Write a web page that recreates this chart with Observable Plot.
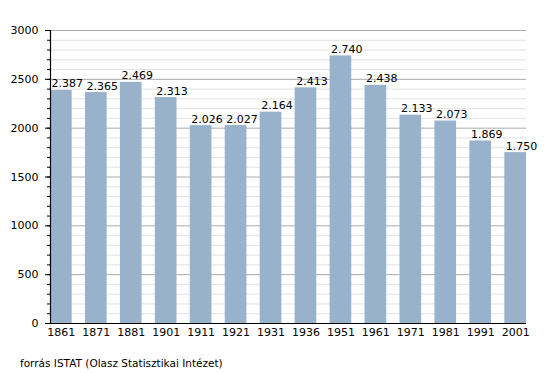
<!DOCTYPE html>
<html><head><meta charset="utf-8">
<script src="https://cdn.jsdelivr.net/npm/d3@7"></script>
<script src="https://cdn.jsdelivr.net/npm/@observablehq/plot@0.6"></script>
<style>
body{margin:0;background:#fff;font-family:"DejaVu Sans",sans-serif;}
#wrap{position:relative;width:555px;height:373px;}
#cap{position:absolute;left:20px;top:357px;font-size:10.5px;color:#000;white-space:nowrap;}
</style></head>
<body><div id="wrap"><div id="chart"></div><div id="cap">forrás ISTAT (Olasz Statisztikai Intézet)</div></div>
<script>
const years = ["1861","1871","1881","1901","1911","1921","1931","1936","1951","1961","1971","1981","1991","2001"];
const population = [2387,2365,2469,2313,2026,2027,2164,2413,2740,2438,2133,2073,1869,1750];
const yTicks = [0,500,1000,1500,2000,2500,3000];

const data = years.map((y,i)=>({year:y, value:population[i]}));
const fmt = v => d3.format(",")(v).replace(/,/g,".");
const W = 555, ML = 50, MR = 29, pin = 0.38;
const step = (W-ML-MR)/(years.length - pin);
const bw = step*(1-pin);
const minor = d3.range(0,3001,100);

const chart = Plot.plot({
  width: W, height: 340,
  marginLeft: ML, marginRight: MR, marginTop: 30, marginBottom: 17,
  style:{fontFamily:"DejaVu Sans, sans-serif", fontSize:"11px", color:"#000", background:"#fff"},
  x:{domain: years, paddingInner: pin, paddingOuter: 0, round:false, label:null},
  y:{domain:[0,3000], label:null},
  marks:[
    Plot.ruleY(minor.filter(v=>v%500!==0), {stroke:"#e2e2e2", strokeOpacity:1}),
    Plot.ruleY(yTicks, {stroke:"#aaa", strokeOpacity:1}),
    Plot.barY(data, {x:"year", y:"value", fill:"#98b2cc"}),
    Plot.text(data, {x:"year", y:"value", text: d=>fmt(d.value), textAnchor:"start", lineAnchor:"bottom", dx:-bw/2+1, dy:-3, fill:"#000", fontSize:11}),
    Plot.axisY({ticks: minor, tickSize:3, text:null, stroke:"#000"}),
    Plot.axisY({ticks: yTicks, tickSize:5, tickPadding:7, tickFormat:"d", fill:"#000", stroke:"#000"}),
    Plot.axisX({tickSize:0, tickPadding:5, fill:"#000"}),
    Plot.ruleY([0], {stroke:"#000", strokeWidth:1.2, insetLeft:-5}),
    Plot.frame({anchor:"left", stroke:"#000", strokeWidth:1.2})
  ]
});
document.getElementById("chart").appendChild(chart);
</script></body></html>
